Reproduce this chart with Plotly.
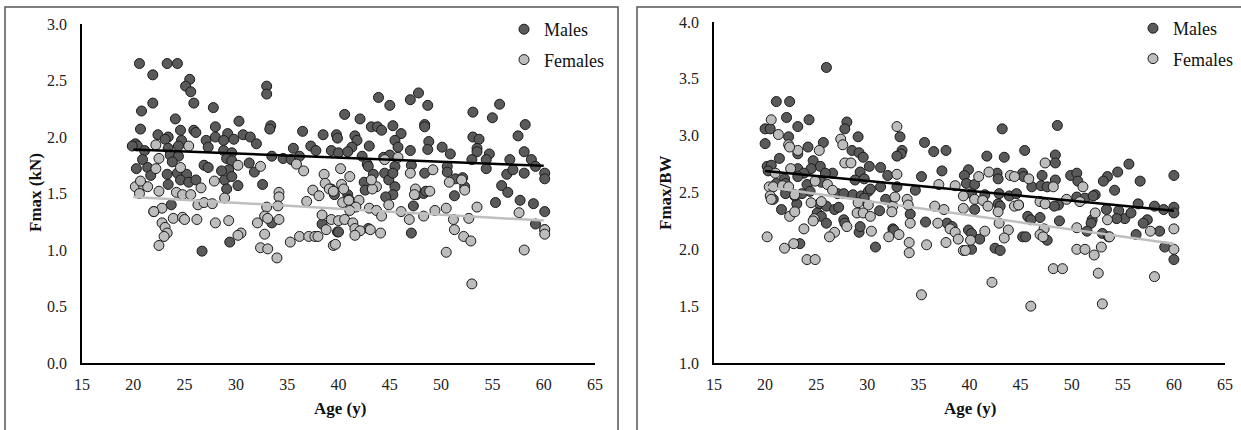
import plotly.graph_objects as go

W, H = 1241, 430

# ---------------- Left panel: Fmax (kN) ----------------
left_m_age = [20.6, 23.3, 24.3, 21.9, 25.5, 25.1, 25.6, 25.9, 21.9, 20.8, 27.8, 33.0, 33.0, 24.1, 20.7,
              30.3, 33.4, 33.3, 36.5, 38.5, 39.8, 28.0, 24.6, 25.9, 26.1, 22.4, 23.4, 23.1, 20.2, 20.4,
              19.9, 24.7, 27.1, 28.0, 29.2, 28.8, 29.8, 30.7, 31.4, 32.0, 35.6, 37.3, 37.8, 39.3, 40.0,
              27.3, 28.8, 29.6, 23.4, 24.4, 21.1, 23.6, 24.4, 20.9, 23.8, 29.1, 29.6, 33.5, 34.6, 35.4,
              36.2, 20.3, 21.4, 26.9, 27.3, 31.3, 31.8, 29.3, 28.6, 21.7, 23.3, 24.3, 25.2, 24.6, 25.4,
              26.1, 28.9, 29.6, 23.4, 30.2, 32.6, 29.1, 39.3, 39.6, 23.7, 22.0, 33.5, 38.4, 39.9, 29.4,
              26.7,
              43.9, 45.0, 47.0, 47.8, 48.7, 40.6, 42.1, 53.1, 55.7, 55.0, 58.2, 57.5, 48.4, 48.4, 43.2,
              43.8, 44.2, 45.3, 46.1, 39.9, 41.6, 41.8, 45.5, 45.8, 48.8, 48.7, 47.0, 50.1, 50.9, 53.1,
              53.7, 53.5, 53.5, 54.7, 54.4, 53.0, 58.1, 56.7, 58.8, 54.4, 56.4, 57.0, 58.1, 59.2, 60.1,
              60.1, 41.3, 43.0, 40.9, 42.3, 42.8, 42.9, 44.4, 45.0, 45.5, 47.1, 43.4, 44.5, 44.9, 45.3,
              48.4, 50.6, 50.6, 51.4, 52.1, 42.5, 42.6, 45.5, 45.3, 44.6, 47.6, 48.3, 48.5, 40.9, 41.0,
              40.0, 47.1, 47.3, 51.3, 52.3, 55.9, 56.5, 55.3, 57.7, 59.0, 60.1, 59.2, 60.1, 42.9]
left_m_val = [2.65, 2.65, 2.65, 2.55, 2.51, 2.45, 2.40, 2.30, 2.30, 2.23, 2.26, 2.45, 2.38, 2.16, 2.07,
              2.14, 2.10, 2.07, 2.05, 2.02, 2.02, 2.09, 2.06, 2.06, 2.04, 2.02, 2.00, 1.98, 1.94, 1.92,
              1.92, 1.97, 1.97, 2.00, 2.03, 1.97, 1.98, 2.02, 2.00, 1.94, 1.90, 1.92, 1.88, 1.88, 1.86,
              1.91, 1.88, 1.86, 1.90, 1.92, 1.88, 1.84, 1.83, 1.80, 1.78, 1.81, 1.79, 1.83, 1.81, 1.80,
              1.83, 1.72, 1.73, 1.75, 1.73, 1.77, 1.69, 1.71, 1.70, 1.66, 1.67, 1.68, 1.67, 1.62, 1.60,
              1.62, 1.62, 1.65, 1.58, 1.57, 1.58, 1.54, 1.54, 1.49, 1.40, 1.34, 1.24, 1.23, 1.16, 1.07,
              0.99,
              2.35, 2.28, 2.33, 2.39, 2.28, 2.20, 2.16, 2.22, 2.29, 2.17, 2.11, 2.01, 2.11, 2.09, 2.09,
              2.09, 2.06, 2.10, 2.03, 1.99, 2.01, 1.97, 1.97, 1.91, 1.96, 1.89, 1.88, 1.91, 1.85, 2.00,
              1.98, 1.90, 1.87, 1.85, 1.80, 1.80, 1.87, 1.80, 1.80, 1.72, 1.67, 1.71, 1.68, 1.74, 1.68,
              1.63, 1.91, 1.92, 1.87, 1.83, 1.76, 1.74, 1.82, 1.84, 1.74, 1.75, 1.67, 1.68, 1.62, 1.68,
              1.68, 1.74, 1.69, 1.63, 1.64, 1.60, 1.53, 1.56, 1.49, 1.47, 1.49, 1.50, 1.52, 1.49, 1.45,
              1.16, 1.15, 1.39, 1.48, 1.56, 1.57, 1.51, 1.42, 1.44, 1.41, 1.34, 1.23, 1.18, 1.19]

left_f_age = [22.2, 25.4, 22.5, 24.6, 22.2, 30.2, 32.4, 36.6, 35.9, 38.6, 20.2, 21.0, 21.4, 20.7, 22.5,
              24.2, 24.8, 25.6, 26.6, 27.9, 28.9, 20.6, 26.3, 26.9, 27.7, 37.5, 38.1, 38.7, 39.1, 39.5,
              36.9, 34.2, 34.2, 33.0, 34.1, 22.8, 22.0, 23.9, 24.8, 25.0, 26.2, 28.0, 29.3, 32.1, 32.8,
              33.1, 34.2, 38.4, 39.3, 40.0, 22.8, 23.1, 23.3, 23.0, 22.5, 30.5, 30.2, 32.8, 32.4, 33.1,
              34.0, 35.3, 36.2, 37.1, 37.7, 38.0, 38.8, 39.5,
              40.2, 41.1, 44.5, 45.8, 47.0, 49.2, 50.8, 52.0, 52.3, 47.5, 47.4, 48.9, 40.3, 40.5, 40.4,
              41.0, 42.0, 43.7, 43.3, 41.7, 41.1, 43.0, 43.7, 44.2, 44.9, 46.1, 46.9, 48.3, 49.4, 50.5,
              51.2, 51.3, 52.2, 52.9, 52.7, 53.5, 50.5, 53.0, 58.1, 57.6, 60.1, 60.1, 40.6, 41.4, 41.6,
              42.1, 41.6, 43.1, 44.1, 39.7, 43.2]
left_f_val = [1.93, 1.92, 1.81, 1.73, 1.72, 1.75, 1.74, 1.70, 1.76, 1.67, 1.56, 1.57, 1.56, 1.61, 1.52,
              1.51, 1.49, 1.49, 1.55, 1.61, 1.46, 1.50, 1.40, 1.42, 1.41, 1.53, 1.48, 1.59, 1.54, 1.52,
              1.43, 1.51, 1.47, 1.38, 1.39, 1.37, 1.34, 1.28, 1.29, 1.27, 1.27, 1.24, 1.26, 1.24, 1.30,
              1.28, 1.27, 1.31, 1.27, 1.26, 1.24, 1.20, 1.15, 1.12, 1.04, 1.15, 1.13, 1.14, 1.02, 1.01,
              0.93, 1.07, 1.12, 1.12, 1.12, 1.12, 1.18, 1.04,
              1.72, 1.65, 1.80, 1.82, 1.68, 1.71, 1.60, 1.62, 1.53, 1.54, 1.49, 1.52, 1.58, 1.54, 1.42,
              1.44, 1.44, 1.56, 1.54, 1.38, 1.35, 1.37, 1.35, 1.30, 1.40, 1.34, 1.27, 1.30, 1.35, 1.37,
              1.27, 1.18, 1.12, 1.08, 1.28, 1.38, 0.98, 0.70, 1.00, 1.33, 1.18, 1.14, 1.27, 1.24, 1.19,
              1.17, 1.13, 1.18, 1.15, 1.05, 1.62]

left_trend_age = [20, 60]
left_trend_m = [1.89, 1.745]
left_trend_f = [1.47, 1.26]

# ---------------- Right panel: Fmax/BW ----------------
right_m_age = [26.0, 21.1, 22.4, 22.1, 24.3, 23.2, 20.0, 20.5, 20.0, 28.0, 27.8, 29.1, 22.3, 25.7, 24.2,
               23.2, 28.5, 29.2, 29.6, 33.2, 35.6, 36.5, 37.7, 33.4, 33.3, 32.9, 21.4, 20.2, 20.6, 20.3,
               24.7, 25.4, 24.5, 23.2, 23.8, 26.6, 25.9, 30.2, 31.3, 32.0, 35.3, 37.3, 29.3, 28.8, 29.7,
               31.3, 32.9, 34.7, 39.9, 39.5, 21.9, 22.0, 21.1, 23.2, 24.1, 24.4, 25.5, 27.1, 27.7, 28.6,
               29.4, 30.1, 30.3, 29.7, 22.0, 20.8, 23.1, 22.9, 23.6, 21.6, 25.3, 26.0, 25.1, 25.5, 26.8,
               27.2, 31.8, 34.2, 31.2, 26.0, 27.7, 27.8, 29.2, 29.3, 32.5, 32.6, 35.7, 37.8, 38.3, 39.9,
               23.4, 30.8,
               43.2, 48.6, 41.7, 43.4, 45.4, 48.4, 48.4, 55.6, 54.5, 53.5, 53.1, 56.7, 60.0, 39.7, 40.5,
               42.7, 42.8, 45.2, 45.3, 47.1, 48.4, 49.9, 50.5, 50.6, 52.3, 54.2, 56.5, 58.1, 59.0, 60.0,
               60.0, 41.5, 42.9, 43.9, 44.6, 46.1, 47.0, 47.6, 42.8, 43.0, 44.8, 48.7, 48.3, 50.5, 51.3,
               52.1, 53.4, 54.6, 55.2, 55.8, 54.4, 52.0, 51.9, 57.4, 57.0, 58.6, 45.7, 46.9, 46.0, 48.8,
               51.5, 53.0, 53.6, 45.2, 45.5, 47.6, 56.3, 59.1, 60.0, 40.2, 41.0, 40.2, 42.5, 43.0, 40.2,
               40.5]
right_m_val = [3.60, 3.30, 3.30, 3.16, 3.14, 3.08, 3.06, 3.06, 2.93, 3.12, 3.06, 2.99, 2.99, 2.94, 2.90,
               2.84, 2.87, 2.85, 2.81, 2.99, 2.94, 2.86, 2.87, 2.87, 2.84, 2.82, 2.80, 2.73, 2.74, 2.69,
               2.78, 2.73, 2.71, 2.71, 2.67, 2.67, 2.67, 2.73, 2.72, 2.65, 2.64, 2.69, 2.68, 2.61, 2.62,
               2.55, 2.55, 2.52, 2.70, 2.65, 2.62, 2.58, 2.58, 2.64, 2.57, 2.51, 2.59, 2.49, 2.49, 2.48,
               2.47, 2.51, 2.53, 2.45, 2.49, 2.44, 2.40, 2.47, 2.49, 2.35, 2.40, 2.38, 2.32, 2.29, 2.35,
               2.37, 2.44, 2.31, 2.34, 2.23, 2.26, 2.23, 2.15, 2.20, 2.18, 2.17, 2.24, 2.23, 2.20, 2.17,
               2.05, 2.02,
               3.06, 3.09, 2.82, 2.81, 2.87, 2.83, 2.76, 2.75, 2.68, 2.64, 2.60, 2.60, 2.65, 2.58, 2.57,
               2.67, 2.62, 2.67, 2.64, 2.65, 2.61, 2.65, 2.67, 2.60, 2.48, 2.52, 2.40, 2.38, 2.35, 2.37,
               2.32, 2.48, 2.49, 2.47, 2.49, 2.55, 2.56, 2.55, 2.40, 2.38, 2.39, 2.39, 2.38, 2.46, 2.45,
               2.47, 2.35, 2.34, 2.27, 2.32, 2.27, 2.26, 2.23, 2.26, 2.23, 2.16, 2.29, 2.28, 2.26, 2.25,
               2.16, 2.14, 2.11, 2.11, 2.11, 2.08, 2.13, 2.02, 1.91, 2.14, 2.09, 2.00, 2.01, 1.99, 2.49,
               2.35]

right_f_age = [20.6, 21.3, 22.3, 23.2, 22.4, 25.3, 27.4, 27.6, 32.9, 27.8, 28.4, 32.9, 22.5, 21.0, 20.4,
               20.8, 21.7, 22.3, 24.9, 26.1, 26.6, 20.5, 20.6, 22.9, 24.5, 25.5, 29.1, 30.1, 32.5, 32.4,
               32.7, 33.9, 34.0, 37.0, 36.6, 37.5, 38.6, 39.4, 39.4, 22.4, 22.9, 24.8, 24.7, 29.0, 29.6,
               30.3, 23.8, 26.8, 26.3, 28.0, 30.4, 32.1, 33.1, 34.2, 34.1, 34.1, 35.8, 36.9, 37.7, 38.1,
               38.6, 38.9, 39.4, 20.2, 21.9, 22.8, 24.1, 24.9, 35.3,
               47.4, 40.9, 41.9, 44.0, 44.4, 45.8, 48.2, 51.1, 49.5, 50.8, 40.5, 41.3, 41.8, 42.8, 44.4,
               44.8, 46.9, 47.4, 52.3, 53.5, 42.9, 43.8, 43.4, 47.3, 46.9, 47.2, 50.5, 53.7, 52.9, 52.2,
               50.5, 51.3, 57.7, 60.0, 60.0, 48.2, 49.1, 52.6, 58.1, 42.2, 39.6, 40.1, 41.5, 46.0, 53.0]
right_f_val = [3.14, 3.01, 2.92, 2.87, 2.90, 2.87, 2.97, 2.92, 3.08, 2.76, 2.76, 2.66, 2.71, 2.67, 2.55,
               2.55, 2.56, 2.55, 2.60, 2.57, 2.52, 2.47, 2.44, 2.48, 2.41, 2.42, 2.41, 2.39, 2.38, 2.33,
               2.46, 2.44, 2.39, 2.57, 2.38, 2.35, 2.56, 2.47, 2.36, 2.29, 2.33, 2.27, 2.25, 2.32, 2.32,
               2.29, 2.18, 2.15, 2.11, 2.20, 2.16, 2.11, 2.13, 2.23, 2.06, 1.97, 2.04, 2.23, 2.06, 2.18,
               2.15, 2.09, 1.99, 2.11, 2.01, 2.05, 1.91, 1.91, 1.60,
               2.76, 2.64, 2.68, 2.65, 2.64, 2.62, 2.55, 2.55, 2.44, 2.42, 2.44, 2.43, 2.38, 2.33, 2.38,
               2.39, 2.42, 2.40, 2.32, 2.26, 2.23, 2.17, 2.10, 2.18, 2.13, 2.11, 2.19, 2.11, 2.02, 1.95,
               2.00, 2.00, 2.16, 2.18, 2.00, 1.83, 1.83, 1.79, 1.76, 1.71, 1.99, 2.08, 2.16, 1.50, 1.52]

right_trend_age = [20, 60]
right_trend_m = [2.69, 2.34]
right_trend_f = [2.55, 2.05]

x_ticks = [15, 20, 25, 30, 35, 40, 45, 50, 55, 60, 65]

MALE_FILL = "#5a5a5a"
FEMALE_FILL = "#bdbdbd"
EDGE = "#1a1a1a"
FONT = "Liberation Serif"

def px_x(p):
    return p / W

def px_y(p):
    return 1 - p / H

fig = go.Figure()

def add_panel(xa, ya, m_age, m_val, f_age, f_val, t_age, t_m, t_f, legend):
    fig.add_trace(go.Scatter(x=m_age, y=m_val, mode="markers", name="Males",
                             xaxis=xa, yaxis=ya, legend=legend, legendgroup="m" + legend,
                             marker=dict(size=10, color=MALE_FILL, line=dict(color=EDGE, width=1))))
    fig.add_trace(go.Scatter(x=f_age, y=f_val, mode="markers", name="Females",
                             xaxis=xa, yaxis=ya, legend=legend, legendgroup="f" + legend,
                             marker=dict(size=10, color=FEMALE_FILL, line=dict(color=EDGE, width=1))))
    fig.add_trace(go.Scatter(x=t_age, y=t_m, mode="lines", showlegend=False,
                             xaxis=xa, yaxis=ya, line=dict(color="#000000", width=2.5)))
    fig.add_trace(go.Scatter(x=t_age, y=t_f, mode="lines", showlegend=False,
                             xaxis=xa, yaxis=ya, line=dict(color="#bfbfbf", width=2.5)))

add_panel("x", "y", left_m_age, left_m_val, left_f_age, left_f_val,
          left_trend_age, left_trend_m, left_trend_f, "legend")
add_panel("x2", "y2", right_m_age, right_m_val, right_f_age, right_f_val,
          right_trend_age, right_trend_m, right_trend_f, "legend2")

tickfont = dict(family=FONT, size=16, color="#222222")

def xaxis(domain, anchor):
    return dict(domain=domain, anchor=anchor, range=[15, 65], tickvals=x_ticks,
                showgrid=False, zeroline=False, showline=True, linecolor="#000000",
                linewidth=2, ticks="", tickfont=tickfont, ticklabelstandoff=6,
                automargin=False)

def yaxis(domain, anchor, rng):
    return dict(domain=domain, anchor=anchor, range=rng, dtick=0.5, tick0=0,
                tickformat=".1f", showgrid=False, zeroline=False, showline=True,
                linecolor="#000000", linewidth=1.5, ticks="", tickfont=tickfont,
                ticklabelstandoff=10, automargin=False)

legfont = dict(family=FONT, size=18, color="#111111")

fig.update_layout(
    template="none",
    width=W, height=H,
    margin=dict(l=0, r=0, t=0, b=0, autoexpand=False),
    font=dict(family=FONT, color="#111111"),
    paper_bgcolor="white", plot_bgcolor="white",
    xaxis=xaxis([px_x(82), px_x(595)], "y"),
    yaxis=yaxis([px_y(363), px_y(24)], "x", [0, 3]),
    xaxis2=xaxis([px_x(714), px_x(1225)], "y2"),
    yaxis2=yaxis([px_y(363), px_y(22)], "x2", [1, 4]),
    legend=dict(x=px_x(504), y=px_y(11), xanchor="left", yanchor="top",
                font=legfont, bgcolor="rgba(0,0,0,0)", tracegroupgap=4, itemwidth=30),
    legend2=dict(x=px_x(1133), y=px_y(10), xanchor="left", yanchor="top",
                 font=legfont, bgcolor="rgba(0,0,0,0)", tracegroupgap=4, itemwidth=30),
    shapes=[
        dict(type="rect", xref="paper", yref="paper", x0=px_x(5), x1=px_x(618),
             y0=px_y(440), y1=px_y(7), line=dict(color="#555555", width=1.5)),
        dict(type="rect", xref="paper", yref="paper", x0=px_x(637), x1=px_x(1250),
             y0=px_y(440), y1=px_y(7), line=dict(color="#555555", width=1.5)),
    ],
    annotations=[
        dict(text="<b>Fmax (kN)</b>", xref="paper", yref="paper", x=px_x(35), y=px_y(193),
             xanchor="center", yanchor="middle",
             textangle=-90, showarrow=False, font=dict(family=FONT, size=17, color="#111111")),
        dict(text="<b>Fmax/BW</b>", xref="paper", yref="paper", x=px_x(665), y=px_y(193),
             xanchor="center", yanchor="middle",
             textangle=-90, showarrow=False, font=dict(family=FONT, size=17, color="#111111")),
        dict(text="<b>Age (y)</b>", xref="paper", yref="paper", x=px_x(340), y=px_y(408),
             xanchor="center", yanchor="middle",
             showarrow=False, font=dict(family=FONT, size=17, color="#111111")),
        dict(text="<b>Age (y)</b>", xref="paper", yref="paper", x=px_x(970), y=px_y(408),
             xanchor="center", yanchor="middle",
             showarrow=False, font=dict(family=FONT, size=17, color="#111111")),
    ],
)

fig.write_html("out.html",
               config={"displayModeBar": False},
               post_script="document.body.style.margin='0px';document.body.style.padding='0px';"
                           "document.body.style.overflow='hidden';")
